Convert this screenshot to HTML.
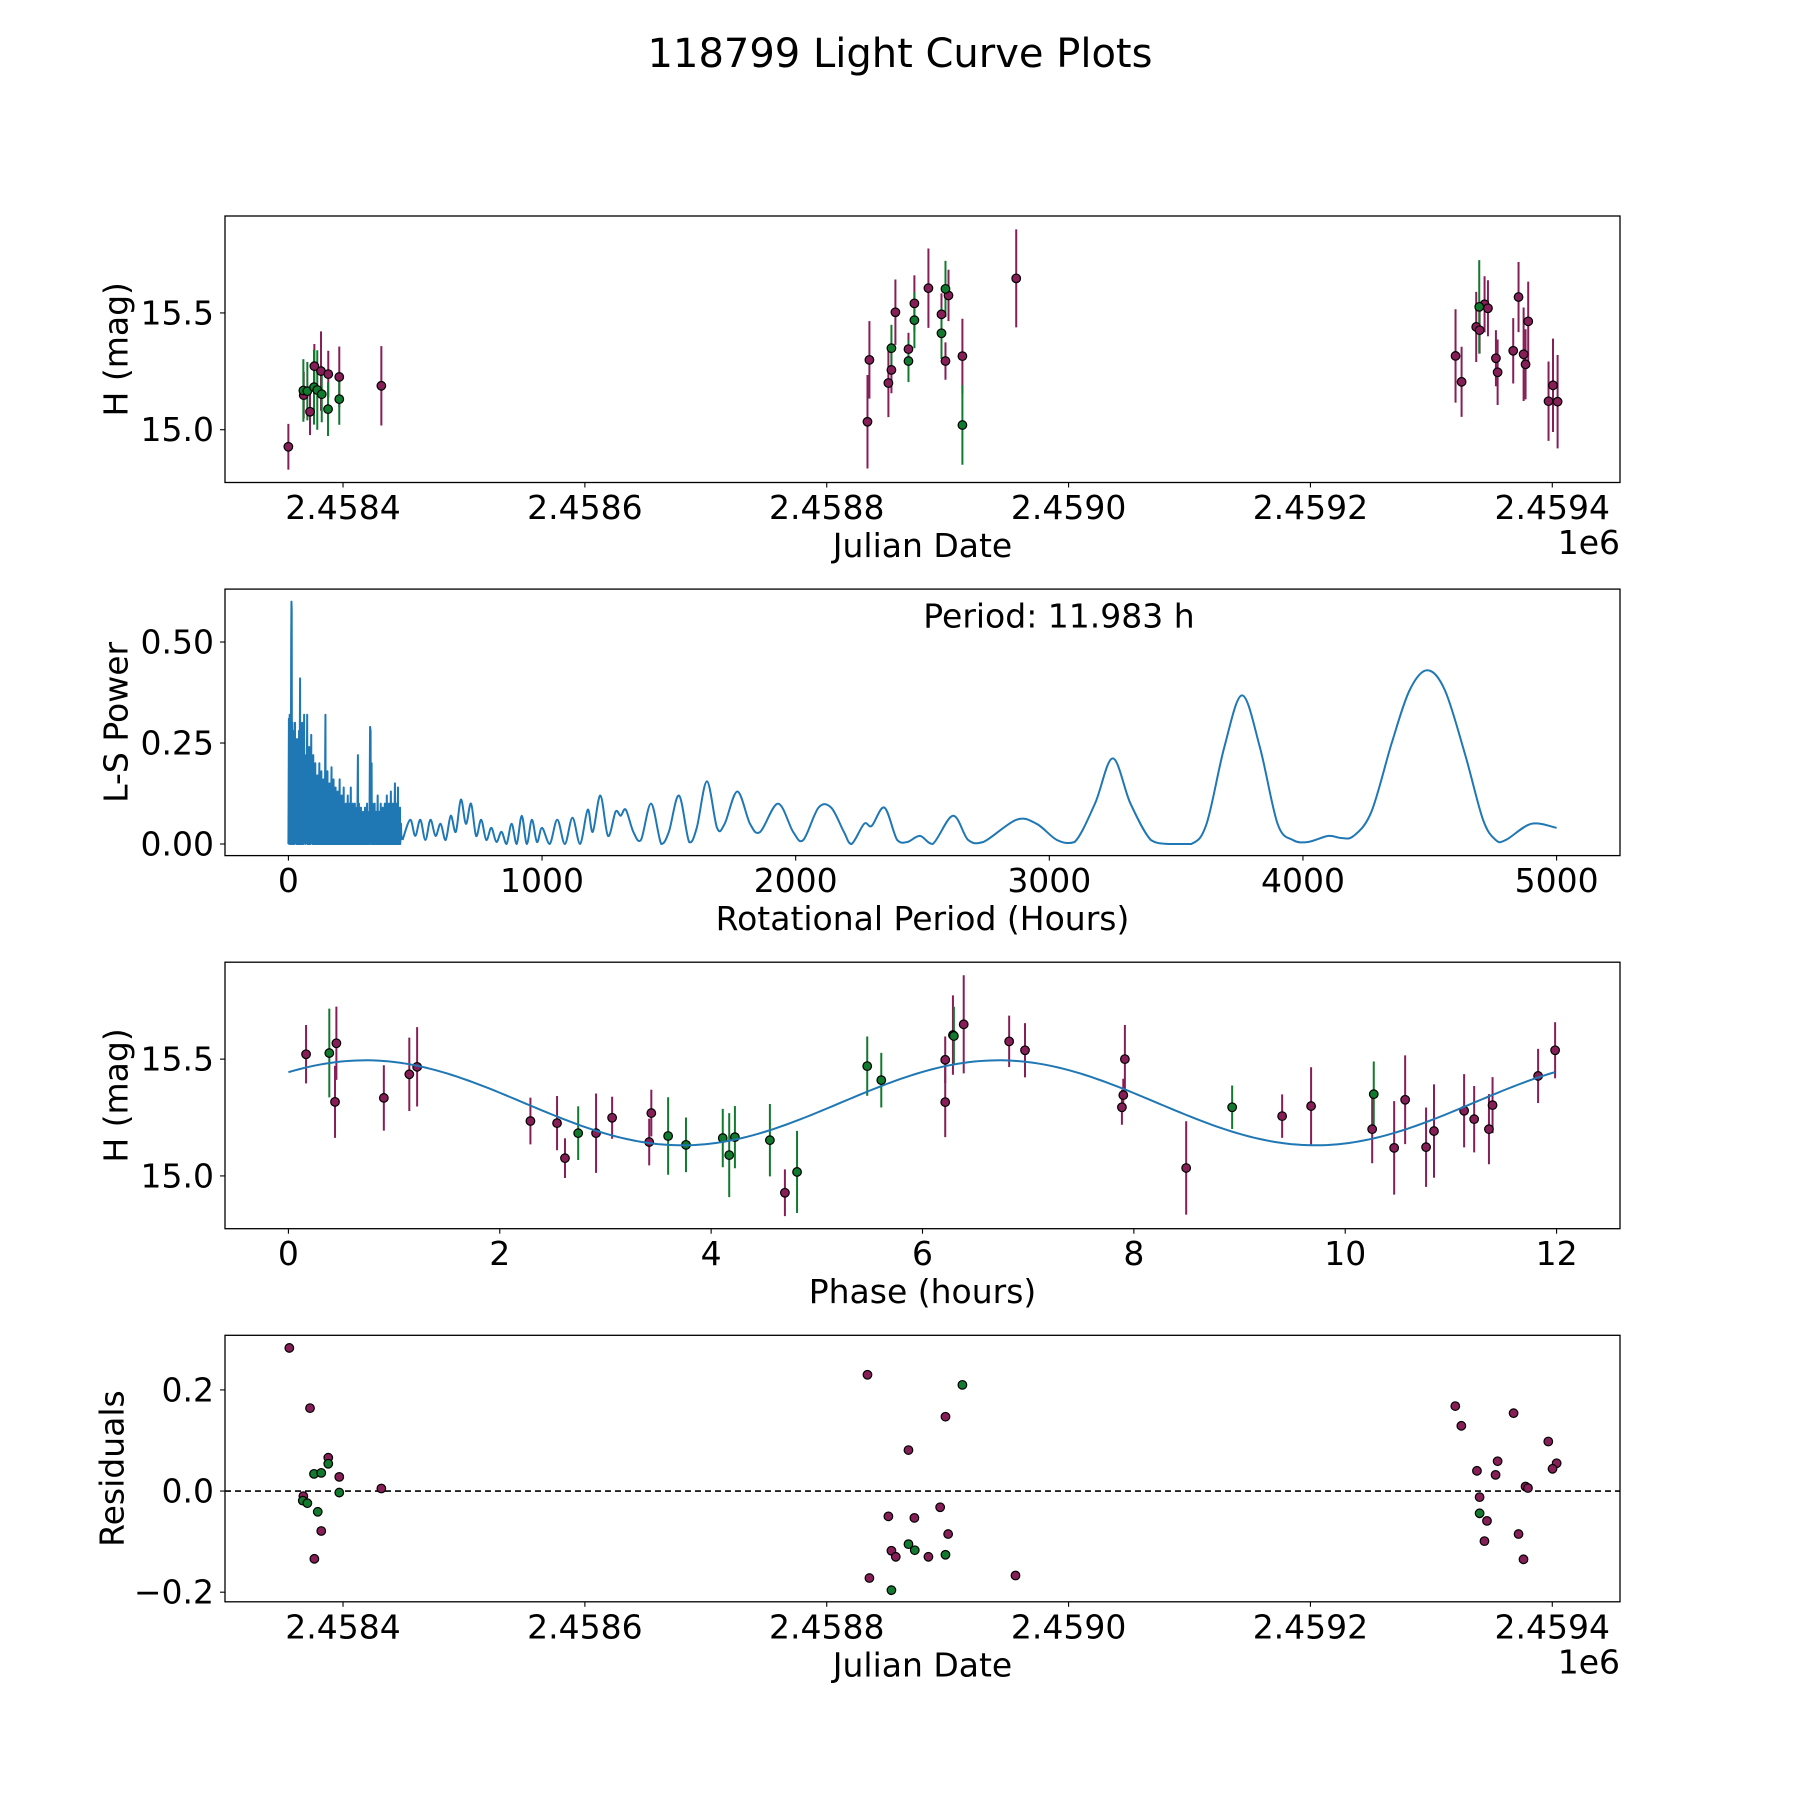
<!DOCTYPE html>
<html><head><meta charset="utf-8"><title>118799 Light Curve Plots</title>
<style>html,body{margin:0;padding:0;background:#fff}svg{display:block}text{font-family:"DejaVu Sans","Liberation Sans",sans-serif;fill:#000}</style>
</head><body>
<svg id="fig" xmlns="http://www.w3.org/2000/svg" width="1800" height="1800" viewBox="0 0 1800 1800">
<rect width="1800" height="1800" fill="#fff"/>
<text x="900" y="54" font-size="40" text-anchor="middle" dominant-baseline="central">118799 Light Curve Plots</text>
</svg>
<script>
// ---------- Panel 1: light curve ----------
const lcJD = [2458354.8,2458367.5,2458367.2,2458370.5,2458372.7,2458376.3,2458376.0,2458378.7,2458381.8,2458382.4,2458387.8,2458387.6,2458396.9,2458396.9,2458431.7,
2458833.7,2458835.3,2458851.0,2458853.5,2458853.5,2458856.8,2458867.6,2458867.6,2458872.5,2458872.5,2458884.1,2458894.9,2458894.9,2458898.2,2458900.7,2458898.2,2458912.2,2458912.2,2458956.7,
2459320.0,2459325.0,2459337.1,2459339.9,2459339.6,2459344.0,2459346.8,2459353.4,2459354.8,2459367.7,2459372.1,2459376.3,2459377.9,2459380.1,2459400.6,2459396.9,2459404.4];
const lcMag = [14.927,15.148,15.168,15.165,15.077,15.272,15.182,15.17,15.251,15.152,15.238,15.088,15.226,15.131,15.188,
15.034,15.299,15.2,15.256,15.349,15.503,15.345,15.294,15.541,15.469,15.606,15.494,15.413,15.603,15.575,15.294,15.315,15.02,15.648,
15.316,15.205,15.44,15.426,15.526,15.537,15.52,15.306,15.246,15.338,15.568,15.323,15.28,15.464,15.19,15.122,15.12];
const lcErr = [0.098,0.10,0.134,0.125,0.10,0.095,0.16,0.17,0.17,0.12,0.10,0.115,0.13,0.11,0.17,
0.2,0.166,0.146,0.1,0.1,0.14,0.07,0.09,0.12,0.12,0.17,0.09,0.11,0.12,0.11,0.08,0.16,0.17,0.21,
0.2,0.15,0.15,0.1,0.2,0.12,0.12,0.12,0.14,0.14,0.15,0.2,0.15,0.17,0.2,0.17,0.2];
const lcBand = ['m','m','g','g','m','m','g','g','m','g','m','g','m','g','m',
'm','m','m','m','g','m','m','g','m','g','m','m','g','g','m','m','m','g','m',
'm','m','m','m','g','m','m','m','m','m','m','m','m','m','m','m','m'];
const jdTicks = [2458400,2458600,2458800,2459000,2459200,2459400];
const jdTickLabels = ['2.4584','2.4586','2.4588','2.4590','2.4592','2.4594'];
const magTicks = [15.0,15.5];
const magTickLabels = ['15.0','15.5'];

// ---------- Panel 2: periodogram ----------
const densePeriod = [0,2,3,5,6,8,9,11,12,13,14,16,17,19,20,22,23,26,27,30,31,34,35,38,39,42,43,46,47,50,51,54,55,58,59,62,63,66,67,70,71,74,75,78,79,82,83,86,87,90,91,94,95,98,99,102,103,106,107,110,111,114,115,118,119,122,123,126,127,130,131,134,135,138,139,142,143,146,147,150,151,154,155,158,159,162,163,166,167,170,171,174,175,178,179,182,183,186,187,190,191,194,195,198,199,202,203,206,207,210,211,214,215,218,219,222,223,226,227,230,231,234,235,238,239,242,243,246,247,250,251,254,255,258,259,262,263,266,267,270,271,274,275,278,279,282,283,286,287,290,291,294,295,298,299,302,303,306,307,310,311,314,315,318,319,322,324,325,328,329,332,333,336,337,340,341,344,345,348,349,352,353,356,357,360,361,364,365,368,369,372,373,376,377,380,381,384,385,388,389,392,393,396,397,400,401,404,405,408,409,412,413,416,417,420,421,424,425,428,429,432,433,436,437,440,441,444,445,450];
const densePower = [0,0.31,0,0.32,0.02,0.25,0,0.5,0.6,0.58,0,0.3,0,0.28,0,0.22,0,0.3,0.02,0.22,0,0.26,0,0.2,0,0.28,0,0.41,0,0.2,0,0.3,0,0.18,0,0.32,0.02,0.2,0,0.22,0.01,0.32,0,0.16,0,0.24,0,0.18,0,0.27,0.01,0.13,0,0.22,0,0.16,0,0.2,0,0.14,0,0.17,0,0.12,0,0.2,0,0.14,0,0.18,0,0.12,0,0.16,0,0.12,0,0.32,0,0.14,0,0.18,0,0.12,0,0.15,0,0.1,0,0.19,0,0.1,0,0.16,0,0.1,0,0.14,0,0.08,0,0.13,0,0.1,0,0.16,0,0.08,0,0.12,0,0.1,0,0.14,0,0.08,0,0.1,0,0.07,0,0.12,0,0.1,0,0.07,0,0.14,0,0.08,0,0.1,0,0.06,0,0.1,0,0.06,0,0.09,0,0.22,0,0.1,0,0.06,0,0.09,0,0.05,0,0.08,0,0.06,0,0.09,0,0.05,0,0.1,0,0.06,0,0.08,0,0.29,0.28,0,0.2,0,0.1,0,0.06,0,0.1,0,0.08,0,0.06,0,0.12,0,0.08,0,0.06,0,0.1,0,0.05,0,0.09,0,0.06,0,0.1,0,0.05,0,0.12,0,0.07,0,0.1,0,0.08,0,0.13,0,0.06,0,0.1,0,0.07,0,0.15,0,0.1,0,0.08,0,0.14,0,0.06,0,0.09,0,0.05,0.02,0.01];
const smoothPeriod = [450,480,500,520,540,560,580,600,620,640,660,680,700,720,740,760,780,800,820,840,860,880,900,920,940,960,980,1000,1030,1060,1090,1120,1150,1180,1200,1230,1260,1290,1310,1330,1360,1390,1430,1470,1500,1540,1580,1610,1650,1690,1720,1770,1820,1860,1930,1990,2030,2090,2140,2190,2220,2270,2300,2350,2400,2440,2490,2540,2620,2680,2740,2870,2950,3030,3100,3180,3250,3320,3400,3470,3560,3620,3690,3760,3830,3900,3960,4020,4100,4150,4200,4270,4350,4420,4490,4560,4640,4710,4760,4800,4900,5000];
const smoothPower = [0.01,0.06,0.02,0.06,0.01,0.06,0.02,0.05,0.01,0.07,0.03,0.11,0.05,0.1,0.02,0.06,0.01,0.04,0.005,0.03,0.0,0.05,0.0,0.07,0.0,0.06,0.005,0.04,0.0,0.06,0.0,0.065,0.0,0.085,0.03,0.12,0.02,0.08,0.07,0.085,0.03,0.01,0.1,0.0,0.03,0.12,0.005,0.04,0.155,0.04,0.05,0.13,0.05,0.03,0.1,0.03,0.01,0.09,0.09,0.03,0.0,0.05,0.045,0.09,0.01,0.005,0.02,0.0,0.07,0.01,0.005,0.06,0.05,0.01,0.005,0.1,0.212,0.1,0.01,0.0,0.0,0.05,0.24,0.368,0.24,0.05,0.01,0.005,0.02,0.015,0.02,0.08,0.25,0.38,0.43,0.38,0.22,0.06,0.01,0.01,0.05,0.04];
const periodTicks = [0,1000,2000,3000,4000,5000];
const periodTickLabels = ['0','1000','2000','3000','4000','5000'];
const powerTicks = [0,0.25,0.5];
const powerTickLabels = ['0.00','0.25','0.50'];
const bestPeriodLabel = 'Period: 11.983 h';

// ---------- Panel 3: phased ----------
const phPhase = [0.167,0.387,0.454,0.441,0.903,1.144,1.218,2.29,2.542,2.617,2.742,2.911,3.063,3.434,3.414,3.593,3.762,4.11,4.171,4.225,4.556,4.698,4.813,5.477,5.61,6.215,6.215,6.288,6.297,6.39,6.82,6.97,7.915,7.9,7.887,8.495,8.93,9.403,9.677,10.27,10.255,10.463,10.567,10.765,10.84,11.125,11.22,11.36,11.394,11.825,11.986];
const phMag = [15.521,15.526,15.568,15.317,15.334,15.435,15.467,15.235,15.226,15.076,15.183,15.183,15.249,15.269,15.145,15.171,15.133,15.162,15.089,15.166,15.153,14.928,15.017,15.47,15.41,15.497,15.316,15.603,15.599,15.649,15.576,15.538,15.5,15.346,15.294,15.034,15.294,15.256,15.299,15.35,15.2,15.12,15.326,15.123,15.192,15.279,15.243,15.2,15.303,15.428,15.538];
const phErr = [0.125,0.19,0.157,0.154,0.14,0.157,0.17,0.1,0.116,0.085,0.115,0.17,0.09,0.1,0.1,0.166,0.117,0.125,0.18,0.133,0.155,0.1,0.176,0.127,0.117,0.1,0.15,0.17,0.125,0.21,0.11,0.116,0.146,0.07,0.075,0.2,0.093,0.093,0.166,0.14,0.146,0.2,0.19,0.17,0.2,0.157,0.142,0.15,0.12,0.116,0.12];
const phBand = ['m','g','m','m','m','m','m','m','m','m','g','m','m','m','m','g','g','g','g','g','g','m','g','g','g','m','m','m','g','m','m','m','m','m','m','m','g','m','m','g','m','m','m','m','m','m','m','m','m','m','m'];
const fitMean = [15.313];
const fitAmp = [0.182];
const fitCycle = [5.9915];
const fitPeakPhase = [0.73];
const fitMaxPhase = [11.983];
const phaseTicks = [0,2,4,6,8,10,12];
const phaseTickLabels = ['0','2','4','6','8','10','12'];

// ---------- Panel 4: residuals ----------
const resJD = [2458355.6,2458372.7,2458387.8,2458387.8,2458376.0,2458382.0,2458396.9,2458396.9,2458431.7,2458367.2,2458366.7,2458370.5,2458379.1,2458382.0,2458376.3,
2458833.7,2458912.2,2458898.2,2458867.6,2458893.8,2458851.0,2458872.5,2458900.4,2458867.6,2458853.5,2458872.8,2458857.1,2458884.1,2458898.2,2458835.3,2458853.5,2458956.1,
2459319.8,2459324.8,2459368.0,2459396.7,2459403.6,2459400.2,2459354.8,2459337.7,2459353.1,2459377.9,2459379.9,2459339.9,2459339.9,2459346.0,2459372.1,2459343.9,2459376.2];
const resVal = [0.283,0.164,0.066,0.054,0.034,0.036,0.028,-0.003,0.005,-0.01,-0.019,-0.024,-0.041,-0.079,-0.134,
0.23,0.21,0.147,0.081,-0.032,-0.05,-0.053,-0.085,-0.105,-0.118,-0.117,-0.13,-0.13,-0.126,-0.172,-0.196,-0.167,
0.168,0.129,0.154,0.098,0.055,0.044,0.059,0.04,0.032,0.009,0.006,-0.012,-0.044,-0.059,-0.085,-0.099,-0.135];
const resBand = ['m','m','m','g','g','g','m','g','m','m','g','g','g','m','m',
'm','g','m','m','m','m','m','m','g','m','g','m','m','g','m','g','m',
'm','m','m','m','m','m','m','m','m','m','m','m','g','m','m','m','m'];
const resTicks = [-0.2,0,0.2];
const resTickLabels = ['\u22120.2','0.0','0.2'];

const NS='http://www.w3.org/2000/svg';
const svg=document.getElementById('fig');
const COL={m:'#861e57',g:'#117a2e'};
const L=225,R=1620,H=266.5;
const TOPS=[216,589.1,962.2,1335.3];
function mk(tag,attrs,parent){const e=document.createElementNS(NS,tag);for(const k in attrs)e.setAttribute(k,attrs[k]);(parent||svg).appendChild(e);return e;}
function lin(d0,d1,p0,p1){return v=>p0+(v-d0)/(d1-d0)*(p1-p0);}

function frame(i,name){
  const g=mk('g',{});
  
  
  return g;
}
function box(g,top){
  const r=mk('rect',{x:L,y:top,width:R-L,height:H,fill:'none',stroke:'#000','stroke-width':1.3},g);
  
  
}
function xTicks(g,top,sx,ticks,labels){
  const bot=top+H;
  ticks.forEach((t,k)=>{
    const x=sx(t);
    const l=mk('line',{x1:x,x2:x,y1:bot,y2:bot+5,stroke:'#000','stroke-width':1.1},g);
    
    
    const tx=mk('text',{x:x,y:bot+25,'font-size':33,'text-anchor':'middle','dominant-baseline':'central'},g);
    tx.textContent=labels[k];
    
    
  });
}
function yTicks(g,top,sy,ticks,labels){
  ticks.forEach((t,k)=>{
    const y=sy(t);
    const l=mk('line',{x1:L-5,x2:L,y1:y,y2:y,stroke:'#000','stroke-width':1.1},g);
    
    
    const tx=mk('text',{x:L-11,y:y,'font-size':33,'text-anchor':'end','dominant-baseline':'central'},g);
    tx.textContent=labels[k];
    
    
  });
}
function xLabel(g,top,txt){
  const t=mk('text',{x:(L+R)/2,y:top+H+63,'font-size':33,'text-anchor':'middle','dominant-baseline':'central'},g);
  t.textContent=txt;
  
  
}
function yLabel(g,top,txt,x){
  const cy=top+H/2;
  const t=mk('text',{x:x,y:cy,'font-size':33,'text-anchor':'middle','dominant-baseline':'central',transform:`rotate(-90 ${x} ${cy})`},g);
  t.textContent=txt;
  
  
}
function offset(g,top){
  const t=mk('text',{x:R,y:top+H+60,'font-size':33,'text-anchor':'end','dominant-baseline':'central'},g);
  t.textContent='1e6';
  
  
}
function clip(id,top){
  const d=mk('clipPath',{id:id});
  mk('rect',{x:L,y:top,width:R-L,height:H},d);
}
function errPoints(g,xs,ys,es,bs,sx,sy){
  ['m','g'].forEach(b=>{
    xs.forEach((x,k)=>{
      if(bs[k]!==b)return;
      const px=sx(x);
      const e=mk('line',{x1:px,x2:px,y1:sy(ys[k]-es[k]),y2:sy(ys[k]+es[k]),stroke:COL[b],'stroke-width':2},g);
      
      
    });
  });
  ['m','g'].forEach(b=>{
    xs.forEach((x,k)=>{
      if(bs[k]!==b)return;
      const c=mk('circle',{cx:sx(x),cy:sy(ys[k]),r:4.3,fill:COL[b],stroke:'#000','stroke-width':1.2},g);
      
      
    });
  });
}

const sJD=lin(2458302.4,2459456.0,L,R);

// Panel 1
(function(){
  const top=TOPS[0];
  const g=frame(0,'light-curve-panel');
  const sy=lin(14.774,15.915,top+H,top);
  clip('c1',top);
  const pg=mk('g',{'clip-path':'url(#c1)'},g);
  errPoints(pg,lcJD,lcMag,lcErr,lcBand,sJD,sy);
  box(g,top);
  xTicks(g,top,sJD,jdTicks,jdTickLabels);
  yTicks(g,top,sy,magTicks,magTickLabels);
  xLabel(g,top,'Julian Date');
  yLabel(g,top,'H (mag)',116);
  offset(g,top);
})();

// Panel 2
(function(){
  const top=TOPS[1];
  const g=frame(1,'periodogram-panel');
  const sx=lin(-250,5250,L,R);
  const sy=lin(-0.0287,0.631,top+H,top);
  clip('c2',top);
  const pg=mk('g',{'clip-path':'url(#c2)'},g);
  let d='';
  densePeriod.forEach((p,k)=>{d+=(k?'L':'M')+sx(p).toFixed(2)+' '+sy(densePower[k]).toFixed(2);});
  const dense=mk('path',{d:d,fill:'none',stroke:'#1f77b4','stroke-width':2,'stroke-linejoin':'round'},pg);
  
  
  const P=smoothPeriod.map((p,k)=>[sx(p),sy(smoothPower[k])]);
  let s='M'+P[0][0]+' '+P[0][1];
  for(let k=0;k<P.length-1;k++){
    const p0=P[Math.max(0,k-1)],p1=P[k],p2=P[k+1],p3=P[Math.min(P.length-1,k+2)];
    const c1=[p1[0]+(p2[0]-p0[0])/6,p1[1]+(p2[1]-p0[1])/6];
    const c2=[p2[0]-(p3[0]-p1[0])/6,p2[1]-(p3[1]-p1[1])/6];
    s+=`C${c1[0].toFixed(2)} ${Math.min(sy(0),c1[1]).toFixed(2)} ${c2[0].toFixed(2)} ${Math.min(sy(0),c2[1]).toFixed(2)} ${p2[0].toFixed(2)} ${p2[1].toFixed(2)}`;
  }
  const sm=mk('path',{d:s,fill:'none',stroke:'#1f77b4','stroke-width':2,'stroke-linejoin':'round'},pg);
  
  
  box(g,top);
  xTicks(g,top,sx,periodTicks,periodTickLabels);
  yTicks(g,top,sy,powerTicks,powerTickLabels);
  xLabel(g,top,'Rotational Period (Hours)');
  yLabel(g,top,'L-S Power',116);
  const ann=mk('text',{x:1059,y:top+27,'font-size':33,'text-anchor':'middle','dominant-baseline':'central'},g);
  ann.textContent=bestPeriodLabel;
  
  
})();

// Panel 3
(function(){
  const top=TOPS[2];
  const g=frame(2,'phase-panel');
  const sx=lin(-0.6,12.6,L,R);
  const sy=lin(14.774,15.915,top+H,top);
  clip('c3',top);
  const pg=mk('g',{'clip-path':'url(#c3)'},g);
  errPoints(pg,phPhase,phMag,phErr,phBand,sx,sy);
  let d='';
  const N=240;
  for(let k=0;k<=N;k++){
    const ph=fitMaxPhase[0]*k/N;
    const m=fitMean[0]+fitAmp[0]*Math.cos(2*Math.PI*(ph-fitPeakPhase[0])/fitCycle[0]);
    d+=(k?'L':'M')+sx(ph).toFixed(2)+' '+sy(m).toFixed(2);
  }
  const fit=mk('path',{d:d,fill:'none',stroke:'#1f77b4','stroke-width':2},pg);
  
  
  box(g,top);
  xTicks(g,top,sx,phaseTicks,phaseTickLabels);
  yTicks(g,top,sy,magTicks,magTickLabels);
  xLabel(g,top,'Phase (hours)');
  yLabel(g,top,'H (mag)',116);
})();

// Panel 4
(function(){
  const top=TOPS[3];
  const g=frame(3,'residuals-panel');
  const sy=lin(-0.219,0.308,top+H,top);
  clip('c4',top);
  const pg=mk('g',{'clip-path':'url(#c4)'},g);
  const z=mk('line',{x1:L,x2:R,y1:sy(0),y2:sy(0),stroke:'#000','stroke-width':1.6,'stroke-dasharray':'6,4'},pg);
  
  
  ['m','g'].forEach(b=>{
    resJD.forEach((x,k)=>{
      if(resBand[k]!==b)return;
      const c=mk('circle',{cx:sJD(x),cy:sy(resVal[k]),r:4.3,fill:COL[b],stroke:'#000','stroke-width':1.2},pg);
      
      
    });
  });
  box(g,top);
  xTicks(g,top,sJD,jdTicks,jdTickLabels);
  yTicks(g,top,sy,resTicks,resTickLabels);
  xLabel(g,top,'Julian Date');
  yLabel(g,top,'Residuals',112);
  offset(g,top);
})();
</script>
</body></html>
